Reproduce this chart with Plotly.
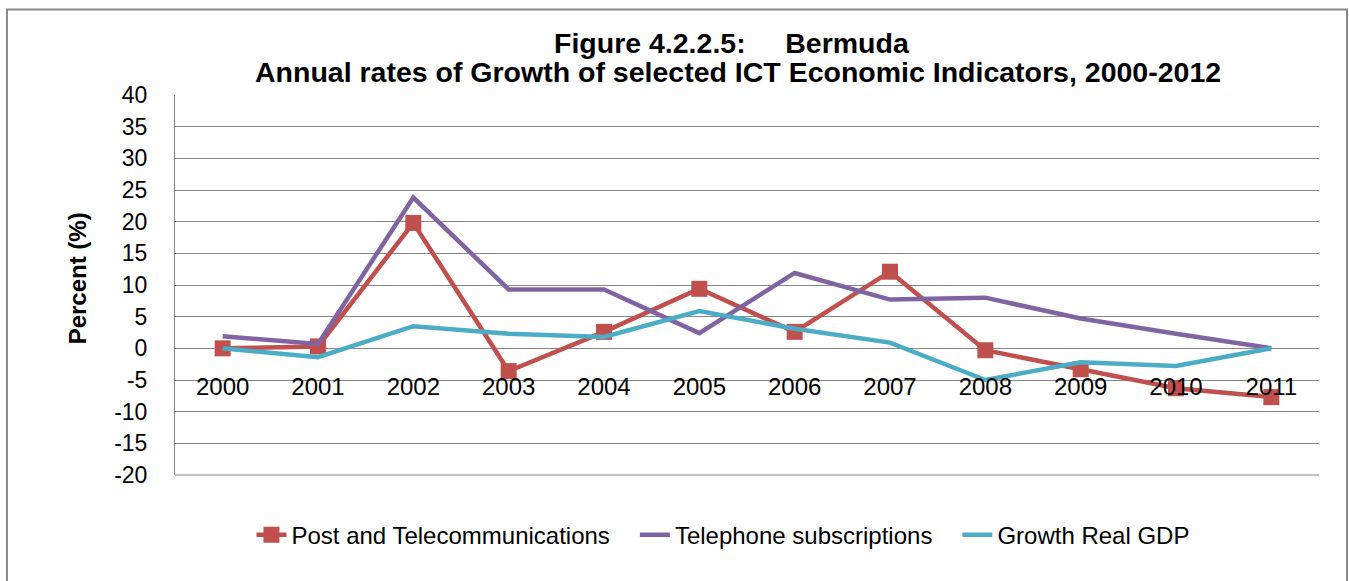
import plotly.graph_objects as go

years = ["2000", "2001", "2002", "2003", "2004", "2005", "2006", "2007", "2008", "2009", "2010", "2011"]
post_telecom = [0.0, 0.3, 19.8, -3.6, 2.6, 9.4, 2.6, 12.1, -0.3, -3.3, -6.3, -7.7]
telephone_subs = [1.9, 0.7, 23.8, 9.3, 9.3, 2.4, 11.9, 7.7, 8.0, 4.7, 2.3, 0.0]
real_gdp = [0.0, -1.4, 3.5, 2.3, 1.8, 5.9, 3.1, 0.9, -5.0, -2.2, -2.8, 0.0]
y_ticks = [-20, -15, -10, -5, 0, 5, 10, 15, 20, 25, 30, 35, 40]
y_tick_labels = [str(v) for v in y_ticks]

title_line1 = "Figure 4.2.2.5:&nbsp;&nbsp;&nbsp;&nbsp;&nbsp;Bermuda"
title_line2 = "Annual rates of Growth of selected ICT Economic Indicators, 2000-2012"

FONT = "Liberation Sans, Arial, sans-serif"
GAP = "&nbsp;&nbsp;&nbsp;"

fig = go.Figure()
fig.add_trace(go.Scatter(x=years, y=post_telecom, mode="lines+markers", name="Post and Telecommunications" + GAP,
                         line=dict(color="#C0504D", width=4.5),
                         marker=dict(symbol="square", size=16, color="#C0504D")))
fig.add_trace(go.Scatter(x=years, y=telephone_subs, mode="lines", name="Telephone subscriptions" + GAP,
                         line=dict(color="#8064A2", width=4.5)))
fig.add_trace(go.Scatter(x=years, y=real_gdp, mode="lines", name="Growth Real GDP",
                         line=dict(color="#4BACC6", width=4.5)))

fig.update_layout(
    width=1349, height=581,
    margin=dict(l=175, r=30, t=95, b=106),
    paper_bgcolor="white", plot_bgcolor="white",
    font=dict(family=FONT, color="black"),
    legend=dict(orientation="h", x=0.479, xanchor="center", y=-0.158, yanchor="middle",
                font=dict(family=FONT, size=24, color="black"),
                traceorder="normal"),
    showlegend=True,
    xaxis=dict(type="category", categoryarray=years, range=[-0.5, 11.5],
               anchor="free", position=1/3,
               showline=False, showgrid=False, ticks="", ticklabelstandoff=22,
               tickfont=dict(family=FONT, size=24, color="black"), zeroline=False),
    yaxis=dict(range=[-20, 40], tickvals=y_ticks, ticktext=y_tick_labels,
               showgrid=True, gridcolor="#868686", gridwidth=1,
               zeroline=False, showline=True, linecolor="#868686", linewidth=1,
               ticks="", ticklabelstandoff=22,
               tickfont=dict(family=FONT, size=23, color="black"),
               title=dict(text="&nbsp;&nbsp;<b>Percent (%)</b>", standoff=20,
                          font=dict(family=FONT, size=24, color="black"))),
    annotations=[
        dict(text="<b>" + title_line1 + "</b>", xref="paper", yref="paper", x=0.487, y=1.1357,
             xanchor="center", yanchor="middle", showarrow=False,
             font=dict(family=FONT, size=28.5, color="black")),
        dict(text="<b>" + title_line2 + "</b>", xref="paper", yref="paper", x=0.492, y=1.0593,
             xanchor="center", yanchor="middle", showarrow=False,
             font=dict(family=FONT, size=28.5, color="black")),
    ],
    shapes=[
        dict(type="rect", xref="paper", yref="paper", x0=-0.1469, x1=1.0245, y0=-0.5, y1=1.2253,
             line=dict(color="#898989", width=2), fillcolor="rgba(0,0,0,0)", layer="below"),
        dict(type="line", xref="paper", yref="paper", x0=0, x1=1, y0=0, y1=0,
             line=dict(color="#868686", width=1), layer="below"),
    ],
)

fig.write_html("out.html", config={"displayModeBar": False},
               post_script="document.body.style.margin='0px';")
